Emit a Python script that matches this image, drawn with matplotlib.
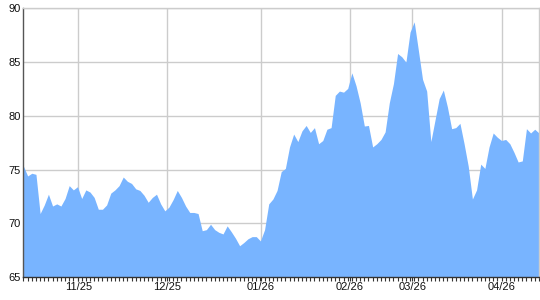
import matplotlib
matplotlib.use("Agg")
import matplotlib.pyplot as plt
from matplotlib.ticker import MultipleLocator
import numpy as np

# values, one per trading day
values = [75.3, 74.4, 74.65, 74.55, 70.9, 71.7, 72.7, 71.6, 71.8, 71.6,
          72.3, 73.5, 73.1, 73.4, 72.3, 73.1, 72.9, 72.4, 71.3, 71.3,
          71.7, 72.8, 73.1, 73.5, 74.3, 73.9, 73.7, 73.2, 73.05, 72.6,
          71.95, 72.4, 72.7, 71.8, 71.15, 71.5, 72.2,
          73.05, 72.4, 71.6, 71.0, 71.0, 70.9, 69.3, 69.4, 69.9, 69.4,
          69.15, 69.0, 69.75, 69.2, 68.6, 67.9, 68.2, 68.55, 68.75, 68.75,
          68.35, 69.4, 71.8, 72.25, 73.05, 74.8, 75.1, 77.1, 78.3, 77.6,
          78.6, 79.1, 78.45, 78.9, 77.4, 77.7, 78.75, 78.9, 81.9, 82.3,
          82.2, 82.55, 84.0,
          82.8, 81.2, 79.05, 79.1, 77.1, 77.4, 77.8, 78.5, 81.2, 83.0,
          85.8, 85.5, 85.0, 87.8, 88.75, 86.1, 83.4, 82.3, 77.6, 79.6,
          81.6, 82.4, 80.8, 78.8, 78.9, 79.3, 77.4, 75.3, 72.25, 73.1,
          75.5, 75.1, 77.1, 78.4, 78.0, 77.7, 77.8, 77.4, 76.6, 75.7,
          75.8, 78.8, 78.4, 78.75, 78.4]

month_labels = ["11/25", "12/25", "01/26", "02/26", "03/26", "04/26"]
month_pos = [13.2, 34.6, 57.1, 78.5, 93.5, 115.0]
y_ticks = [65, 70, 75, 80, 85, 90]

plt.rcParams['font.family'] = ['Liberation Sans', 'DejaVu Sans']

x = np.arange(len(values))

fig = plt.figure(figsize=(5.4, 3.0), dpi=100)
ax = fig.add_axes([0.0435, 0.077, 0.9545, 0.895])

ax.fill_between(x, 65, values, color='#78b4ff', linewidth=0, zorder=2)

ax.set_xlim(0, len(values) - 1)
ax.set_ylim(65, 90)
ax.set_yticks(y_ticks)
ax.set_xticks(month_pos)
ax.set_xticklabels(month_labels)
ax.xaxis.set_minor_locator(MultipleLocator(1))

ax.grid(True, color='#cccccc', linewidth=1, zorder=0)
ax.set_axisbelow(True)

ax.tick_params(axis='both', which='major', labelsize=8, colors='#111111', length=0, pad=2)
ax.tick_params(axis='x', which='major', length=3, color='#333333', pad=1)
ax.tick_params(axis='x', which='minor', length=3, width=0.8, color='#333333')

ax.spines['left'].set_color('#555555')
ax.spines['bottom'].set_color('#333333')
ax.spines['top'].set_color('#cccccc')
ax.spines['right'].set_color('#cccccc')
for s in ax.spines.values():
    s.set_linewidth(1)

fig.savefig('out.png', dpi=100)
